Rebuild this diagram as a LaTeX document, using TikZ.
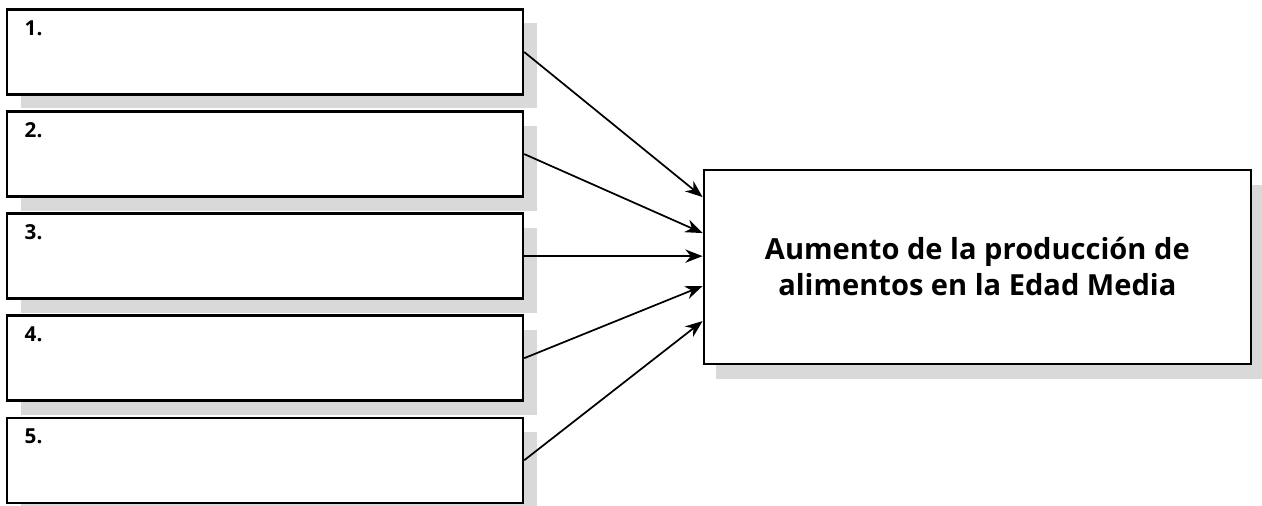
\documentclass[tikz,border=0pt]{standalone}
\usepackage{fontspec}
\setmainfont{Open Sans}
\usetikzlibrary{arrows.meta,positioning,shadows}
\definecolor{shadowgray}{RGB}{217,217,217}

\begin{document}
\begin{tikzpicture}[
  x=1pt, y=1pt,
  node distance=11pt,
  slot/.style={draw=black, line width=1.8pt, fill=white, minimum width=387pt, minimum height=63.75pt, inner sep=0pt,
    drop shadow={shadow xshift=10.5pt, shadow yshift=-10.5pt, fill=shadowgray, opacity=1}},
  num/.style={font=\bfseries\fontsize{15.5}{18}\selectfont, inner sep=0pt, anchor=north west},
  goal/.style={draw=black, line width=1.5pt, fill=white, minimum width=410.6pt, minimum height=145.1pt, align=center,
    font=\bfseries\fontsize{21.8}{27}\selectfont,
    drop shadow={shadow xshift=9pt, shadow yshift=-11.25pt, fill=shadowgray, opacity=1}},
  arr/.style={-{Stealth[length=13pt, width=10pt]}, line width=1.3pt}
]
\useasboundingbox (0,0) rectangle (946.5,379.5);

\node[slot] (b1) at (198.75,340.5) {};
\node[slot, below=of b1] (b2) {};
\node[slot, below=of b2] (b3) {};
\node[slot, below=of b3] (b4) {};
\node[slot, below=of b4] (b5) {};

\node[num] (n1) at ([xshift=14pt, yshift=-9pt]b1.north west) {1.};
\node[num] (n2) at ([xshift=14pt, yshift=-9pt]b2.north west) {2.};
\node[num] (n3) at ([xshift=14pt, yshift=-9pt]b3.north west) {3.};
\node[num] (n4) at ([xshift=14pt, yshift=-9pt]b4.north west) {4.};
\node[num] (n5) at ([xshift=14pt, yshift=-9pt]b5.north west) {5.};

\node[goal] (goal) at (733,179.4) {Aumento de la producción de\\alimentos en la Edad Media};

\draw[arr] (b1.east) -- ([yshift=52.3pt]goal.west);
\draw[arr] (b2.east) -- ([yshift=25.3pt]goal.west);
\draw[arr] (b3.east) -- (b3.east -| goal.west);
\draw[arr] (b4.east) -- ([yshift=-14.4pt]goal.west);
\draw[arr] (b5.east) -- ([yshift=-40.7pt]goal.west);
\end{tikzpicture}
\end{document}
